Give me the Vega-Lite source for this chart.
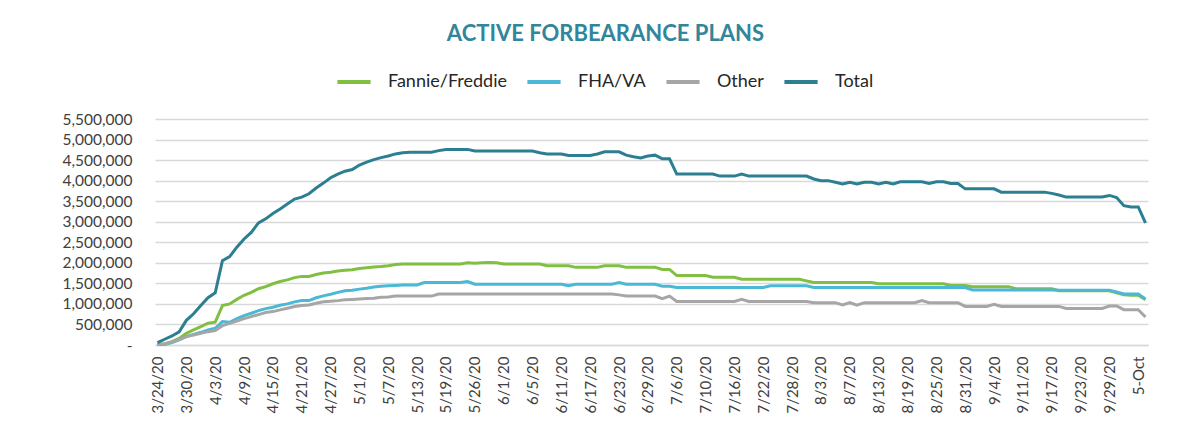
{
  "$schema": "https://vega.github.io/schema/vega-lite/v6.json",
  "width": 993,
  "height": 226,
  "autosize": "none",
  "padding": {"left": 155, "top": 119, "right": 30, "bottom": 96},
  "background": "white",
  "config": {
    "font": "Lato",
    "view": {"stroke": null},
    "axis": {"labelFont": "Lato", "labelColor": "#404040", "domain": false, "ticks": false, "title": null}
  },
  "title": {
    "text": "ACTIVE FORBEARANCE PLANS",
    "font": "Lato",
    "fontSize": 22,
    "fontWeight": "bold",
    "color": "#31869b",
    "anchor": "middle",
    "frame": "group",
    "dx": -46,
    "offset": 17
  },
  "data": {
    "values": [
      {"d":"3/24/20","ff":20000,"fha":10000,"oth":10000,"tot":60000},
      {"d":"3/25/20","ff":30000,"fha":15000,"oth":25000,"tot":140000},
      {"d":"3/26/20","ff":80000,"fha":57000,"oth":73000,"tot":220000},
      {"d":"3/27/20","ff":160000,"fha":122000,"oth":138000,"tot":320000},
      {"d":"3/30/20","ff":285000,"fha":203000,"oth":203000,"tot":600000},
      {"d":"3/31/20","ff":366000,"fha":260000,"oth":244000,"tot":760000},
      {"d":"4/1/20","ff":447000,"fha":309000,"oth":285000,"tot":960000},
      {"d":"4/2/20","ff":530000,"fha":366000,"oth":325000,"tot":1150000},
      {"d":"4/3/20","ff":555000,"fha":406000,"oth":350000,"tot":1270000},
      {"d":"4/6/20","ff":960000,"fha":570000,"oth":470000,"tot":2050000},
      {"d":"4/7/20","ff":1000000,"fha":553000,"oth":528000,"tot":2150000},
      {"d":"4/8/20","ff":1110000,"fha":642000,"oth":585000,"tot":2380000},
      {"d":"4/9/20","ff":1210000,"fha":715000,"oth":642000,"tot":2580000},
      {"d":"4/10/20","ff":1280000,"fha":772000,"oth":691000,"tot":2740000},
      {"d":"4/13/20","ff":1370000,"fha":837000,"oth":740000,"tot":2970000},
      {"d":"4/14/20","ff":1420000,"fha":886000,"oth":789000,"tot":3070000},
      {"d":"4/15/20","ff":1490000,"fha":919000,"oth":813000,"tot":3200000},
      {"d":"4/16/20","ff":1545000,"fha":967000,"oth":854000,"tot":3310000},
      {"d":"4/17/20","ff":1585000,"fha":1000000,"oth":894000,"tot":3430000},
      {"d":"4/20/20","ff":1640000,"fha":1050000,"oth":935000,"tot":3550000},
      {"d":"4/21/20","ff":1670000,"fha":1080000,"oth":960000,"tot":3600000},
      {"d":"4/22/20","ff":1670000,"fha":1080000,"oth":975000,"tot":3680000},
      {"d":"4/23/20","ff":1715000,"fha":1150000,"oth":1016000,"tot":3820000},
      {"d":"4/24/20","ff":1750000,"fha":1195000,"oth":1050000,"tot":3940000},
      {"d":"4/27/20","ff":1770000,"fha":1235000,"oth":1065000,"tot":4070000},
      {"d":"4/28/20","ff":1800000,"fha":1280000,"oth":1080000,"tot":4160000},
      {"d":"4/29/20","ff":1820000,"fha":1320000,"oth":1100000,"tot":4230000},
      {"d":"4/30/20","ff":1830000,"fha":1330000,"oth":1110000,"tot":4270000},
      {"d":"5/1/20","ff":1860000,"fha":1360000,"oth":1120000,"tot":4380000},
      {"d":"5/4/20","ff":1880000,"fha":1380000,"oth":1130000,"tot":4450000},
      {"d":"5/5/20","ff":1900000,"fha":1410000,"oth":1140000,"tot":4510000},
      {"d":"5/6/20","ff":1910000,"fha":1430000,"oth":1160000,"tot":4560000},
      {"d":"5/7/20","ff":1930000,"fha":1440000,"oth":1170000,"tot":4600000},
      {"d":"5/8/20","ff":1960000,"fha":1450000,"oth":1190000,"tot":4650000},
      {"d":"5/11/20","ff":1970000,"fha":1460000,"oth":1190000,"tot":4680000},
      {"d":"5/12/20","ff":1970000,"fha":1460000,"oth":1190000,"tot":4690000},
      {"d":"5/13/20","ff":1970000,"fha":1460000,"oth":1190000,"tot":4690000},
      {"d":"5/14/20","ff":1970000,"fha":1520000,"oth":1190000,"tot":4690000},
      {"d":"5/15/20","ff":1970000,"fha":1520000,"oth":1190000,"tot":4690000},
      {"d":"5/18/20","ff":1970000,"fha":1520000,"oth":1240000,"tot":4730000},
      {"d":"5/19/20","ff":1970000,"fha":1520000,"oth":1240000,"tot":4760000},
      {"d":"5/20/20","ff":1970000,"fha":1520000,"oth":1240000,"tot":4760000},
      {"d":"5/21/20","ff":1970000,"fha":1520000,"oth":1240000,"tot":4760000},
      {"d":"5/22/20","ff":2000000,"fha":1545000,"oth":1240000,"tot":4760000},
      {"d":"5/26/20","ff":1990000,"fha":1480000,"oth":1240000,"tot":4720000},
      {"d":"5/27/20","ff":2000000,"fha":1480000,"oth":1240000,"tot":4720000},
      {"d":"5/28/20","ff":2010000,"fha":1480000,"oth":1240000,"tot":4720000},
      {"d":"5/29/20","ff":2000000,"fha":1480000,"oth":1240000,"tot":4720000},
      {"d":"6/1/20","ff":1970000,"fha":1480000,"oth":1240000,"tot":4720000},
      {"d":"6/2/20","ff":1970000,"fha":1480000,"oth":1240000,"tot":4720000},
      {"d":"6/3/20","ff":1970000,"fha":1480000,"oth":1240000,"tot":4720000},
      {"d":"6/4/20","ff":1970000,"fha":1480000,"oth":1240000,"tot":4720000},
      {"d":"6/5/20","ff":1970000,"fha":1480000,"oth":1240000,"tot":4720000},
      {"d":"6/8/20","ff":1970000,"fha":1480000,"oth":1240000,"tot":4680000},
      {"d":"6/9/20","ff":1930000,"fha":1480000,"oth":1240000,"tot":4650000},
      {"d":"6/10/20","ff":1930000,"fha":1480000,"oth":1240000,"tot":4650000},
      {"d":"6/11/20","ff":1930000,"fha":1480000,"oth":1240000,"tot":4650000},
      {"d":"6/12/20","ff":1930000,"fha":1440000,"oth":1240000,"tot":4610000},
      {"d":"6/15/20","ff":1890000,"fha":1480000,"oth":1240000,"tot":4610000},
      {"d":"6/16/20","ff":1890000,"fha":1480000,"oth":1240000,"tot":4610000},
      {"d":"6/17/20","ff":1890000,"fha":1480000,"oth":1240000,"tot":4610000},
      {"d":"6/18/20","ff":1890000,"fha":1480000,"oth":1240000,"tot":4650000},
      {"d":"6/19/20","ff":1930000,"fha":1480000,"oth":1240000,"tot":4700000},
      {"d":"6/22/20","ff":1930000,"fha":1480000,"oth":1240000,"tot":4700000},
      {"d":"6/23/20","ff":1930000,"fha":1520000,"oth":1220000,"tot":4700000},
      {"d":"6/24/20","ff":1890000,"fha":1480000,"oth":1190000,"tot":4620000},
      {"d":"6/25/20","ff":1890000,"fha":1480000,"oth":1190000,"tot":4580000},
      {"d":"6/26/20","ff":1890000,"fha":1480000,"oth":1190000,"tot":4550000},
      {"d":"6/29/20","ff":1890000,"fha":1480000,"oth":1190000,"tot":4600000},
      {"d":"6/30/20","ff":1890000,"fha":1480000,"oth":1190000,"tot":4620000},
      {"d":"7/1/20","ff":1840000,"fha":1430000,"oth":1130000,"tot":4530000},
      {"d":"7/2/20","ff":1840000,"fha":1430000,"oth":1190000,"tot":4530000},
      {"d":"7/6/20","ff":1690000,"fha":1400000,"oth":1060000,"tot":4160000},
      {"d":"7/7/20","ff":1690000,"fha":1400000,"oth":1060000,"tot":4160000},
      {"d":"7/8/20","ff":1690000,"fha":1400000,"oth":1060000,"tot":4160000},
      {"d":"7/9/20","ff":1690000,"fha":1400000,"oth":1060000,"tot":4160000},
      {"d":"7/10/20","ff":1690000,"fha":1400000,"oth":1060000,"tot":4160000},
      {"d":"7/13/20","ff":1650000,"fha":1400000,"oth":1060000,"tot":4160000},
      {"d":"7/14/20","ff":1650000,"fha":1400000,"oth":1060000,"tot":4110000},
      {"d":"7/15/20","ff":1650000,"fha":1400000,"oth":1060000,"tot":4110000},
      {"d":"7/16/20","ff":1650000,"fha":1400000,"oth":1060000,"tot":4110000},
      {"d":"7/17/20","ff":1600000,"fha":1400000,"oth":1110000,"tot":4160000},
      {"d":"7/20/20","ff":1600000,"fha":1400000,"oth":1060000,"tot":4110000},
      {"d":"7/21/20","ff":1600000,"fha":1400000,"oth":1060000,"tot":4110000},
      {"d":"7/22/20","ff":1600000,"fha":1400000,"oth":1060000,"tot":4110000},
      {"d":"7/23/20","ff":1600000,"fha":1440000,"oth":1060000,"tot":4110000},
      {"d":"7/24/20","ff":1600000,"fha":1440000,"oth":1060000,"tot":4110000},
      {"d":"7/27/20","ff":1600000,"fha":1440000,"oth":1060000,"tot":4110000},
      {"d":"7/28/20","ff":1600000,"fha":1440000,"oth":1060000,"tot":4110000},
      {"d":"7/29/20","ff":1600000,"fha":1440000,"oth":1060000,"tot":4110000},
      {"d":"7/30/20","ff":1560000,"fha":1440000,"oth":1060000,"tot":4110000},
      {"d":"7/31/20","ff":1520000,"fha":1400000,"oth":1030000,"tot":4040000},
      {"d":"8/3/20","ff":1520000,"fha":1400000,"oth":1030000,"tot":4000000},
      {"d":"8/4/20","ff":1520000,"fha":1400000,"oth":1030000,"tot":4000000},
      {"d":"8/5/20","ff":1520000,"fha":1400000,"oth":1030000,"tot":3960000},
      {"d":"8/6/20","ff":1520000,"fha":1400000,"oth":975000,"tot":3920000},
      {"d":"8/7/20","ff":1520000,"fha":1400000,"oth":1030000,"tot":3960000},
      {"d":"8/10/20","ff":1520000,"fha":1400000,"oth":970000,"tot":3920000},
      {"d":"8/11/20","ff":1520000,"fha":1400000,"oth":1030000,"tot":3960000},
      {"d":"8/12/20","ff":1520000,"fha":1400000,"oth":1030000,"tot":3960000},
      {"d":"8/13/20","ff":1490000,"fha":1400000,"oth":1030000,"tot":3920000},
      {"d":"8/14/20","ff":1490000,"fha":1400000,"oth":1030000,"tot":3960000},
      {"d":"8/17/20","ff":1490000,"fha":1400000,"oth":1030000,"tot":3920000},
      {"d":"8/18/20","ff":1490000,"fha":1400000,"oth":1030000,"tot":3970000},
      {"d":"8/19/20","ff":1490000,"fha":1400000,"oth":1030000,"tot":3970000},
      {"d":"8/20/20","ff":1490000,"fha":1400000,"oth":1030000,"tot":3970000},
      {"d":"8/21/20","ff":1490000,"fha":1400000,"oth":1080000,"tot":3970000},
      {"d":"8/24/20","ff":1490000,"fha":1400000,"oth":1030000,"tot":3930000},
      {"d":"8/25/20","ff":1490000,"fha":1400000,"oth":1030000,"tot":3970000},
      {"d":"8/26/20","ff":1490000,"fha":1400000,"oth":1030000,"tot":3970000},
      {"d":"8/27/20","ff":1450000,"fha":1400000,"oth":1030000,"tot":3930000},
      {"d":"8/28/20","ff":1450000,"fha":1400000,"oth":1030000,"tot":3930000},
      {"d":"8/31/20","ff":1450000,"fha":1400000,"oth":940000,"tot":3800000},
      {"d":"9/1/20","ff":1420000,"fha":1340000,"oth":940000,"tot":3800000},
      {"d":"9/2/20","ff":1420000,"fha":1340000,"oth":940000,"tot":3800000},
      {"d":"9/3/20","ff":1420000,"fha":1340000,"oth":940000,"tot":3800000},
      {"d":"9/4/20","ff":1420000,"fha":1340000,"oth":990000,"tot":3800000},
      {"d":"9/8/20","ff":1420000,"fha":1340000,"oth":940000,"tot":3720000},
      {"d":"9/9/20","ff":1420000,"fha":1340000,"oth":940000,"tot":3720000},
      {"d":"9/10/20","ff":1370000,"fha":1340000,"oth":940000,"tot":3720000},
      {"d":"9/11/20","ff":1370000,"fha":1340000,"oth":940000,"tot":3720000},
      {"d":"9/14/20","ff":1370000,"fha":1340000,"oth":940000,"tot":3720000},
      {"d":"9/15/20","ff":1370000,"fha":1340000,"oth":940000,"tot":3720000},
      {"d":"9/16/20","ff":1370000,"fha":1340000,"oth":940000,"tot":3720000},
      {"d":"9/17/20","ff":1370000,"fha":1340000,"oth":940000,"tot":3690000},
      {"d":"9/18/20","ff":1320000,"fha":1330000,"oth":940000,"tot":3650000},
      {"d":"9/21/20","ff":1320000,"fha":1330000,"oth":890000,"tot":3600000},
      {"d":"9/22/20","ff":1320000,"fha":1330000,"oth":890000,"tot":3600000},
      {"d":"9/23/20","ff":1320000,"fha":1330000,"oth":890000,"tot":3600000},
      {"d":"9/24/20","ff":1320000,"fha":1330000,"oth":890000,"tot":3600000},
      {"d":"9/25/20","ff":1320000,"fha":1330000,"oth":890000,"tot":3600000},
      {"d":"9/28/20","ff":1320000,"fha":1330000,"oth":890000,"tot":3600000},
      {"d":"9/29/20","ff":1320000,"fha":1330000,"oth":950000,"tot":3640000},
      {"d":"9/30/20","ff":1270000,"fha":1290000,"oth":950000,"tot":3590000},
      {"d":"10/1/20","ff":1220000,"fha":1240000,"oth":860000,"tot":3390000},
      {"d":"10/2/20","ff":1210000,"fha":1240000,"oth":860000,"tot":3360000},
      {"d":"5-Oct","ff":1210000,"fha":1240000,"oth":860000,"tot":3360000},
      {"d":"10/6/20","ff":1100000,"fha":1120000,"oth":680000,"tot":2970000}
    ]
  },
  "encoding": {
    "x": {
      "field": "d",
      "type": "ordinal",
      "sort": null,
      "scale": {"type": "point", "padding": 0.35},
      "axis": {
        "values": ["3/24/20","3/30/20","4/3/20","4/9/20","4/15/20","4/21/20","4/27/20","5/1/20","5/7/20","5/13/20","5/19/20","5/26/20","6/1/20","6/5/20","6/11/20","6/17/20","6/23/20","6/29/20","7/6/20","7/10/20","7/16/20","7/22/20","7/28/20","8/3/20","8/7/20","8/13/20","8/19/20","8/25/20","8/31/20","9/4/20","9/11/20","9/17/20","9/23/20","9/29/20","5-Oct"],
        "labelAngle": 270,
        "labelAlign": "right",
        "labelBaseline": "middle",
        "labelFontSize": 15,
        "labelPadding": 11,
        "labelOverlap": false,
        "domain": true,
        "domainColor": "#d9d9d9",
        "domainWidth": 1.5,
        "grid": false
      }
    }
  },
  "layer": [
    {
      "mark": {"type": "line", "strokeWidth": 3},
      "encoding": {
        "y": {
          "field": "ff",
          "type": "quantitative",
          "scale": {"domain": [0, 5500000], "nice": false},
          "axis": {
            "values": [0,500000,1000000,1500000,2000000,2500000,3000000,3500000,4000000,4500000,5000000,5500000],
            "labelExpr": "datum.value === 0 ? '-\u00a0\u00a0\u00a0' : format(datum.value, ',')",
            "labelFontSize": 15.5,
            "labelPadding": 23,
            "grid": true,
            "gridColor": "#d9d9d9",
            "gridWidth": 1.5
          }
        },
        "color": {
          "datum": "Fannie/Freddie",
          "type": "nominal",
          "scale": {
            "domain": ["Fannie/Freddie", "FHA/VA", "Other", "Total"],
            "range": ["#80bf41", "#4bb8d5", "#a6a6a6", "#2b7f91"]
          },
          "legend": {
            "title": null,
            "orient": "none",
            "legendX": 180,
            "legendY": -56,
            "direction": "horizontal",
            "symbolType": "stroke",
            "symbolStrokeWidth": 4,
            "symbolSize": 1100,
            "labelFontSize": 18,
            "labelColor": "#262626",
            "labelOffset": 15,
            "columnPadding": 12
          }
        }
      }
    },
    {
      "mark": {"type": "line", "strokeWidth": 3},
      "encoding": {
        "y": {
          "field": "fha",
          "type": "quantitative",
          "scale": {"domain": [0, 5500000], "nice": false},
          "axis": {
            "values": [0,500000,1000000,1500000,2000000,2500000,3000000,3500000,4000000,4500000,5000000,5500000],
            "labelExpr": "datum.value === 0 ? '-\u00a0\u00a0\u00a0' : format(datum.value, ',')",
            "labelFontSize": 15.5,
            "labelPadding": 23,
            "grid": true,
            "gridColor": "#d9d9d9",
            "gridWidth": 1.5
          }
        },
        "color": {"datum": "FHA/VA", "type": "nominal"}
      }
    },
    {
      "mark": {"type": "line", "strokeWidth": 3},
      "encoding": {
        "y": {
          "field": "oth",
          "type": "quantitative",
          "scale": {"domain": [0, 5500000], "nice": false},
          "axis": {
            "values": [0,500000,1000000,1500000,2000000,2500000,3000000,3500000,4000000,4500000,5000000,5500000],
            "labelExpr": "datum.value === 0 ? '-\u00a0\u00a0\u00a0' : format(datum.value, ',')",
            "labelFontSize": 15.5,
            "labelPadding": 23,
            "grid": true,
            "gridColor": "#d9d9d9",
            "gridWidth": 1.5
          }
        },
        "color": {"datum": "Other", "type": "nominal"}
      }
    },
    {
      "mark": {"type": "line", "strokeWidth": 3},
      "encoding": {
        "y": {
          "field": "tot",
          "type": "quantitative",
          "scale": {"domain": [0, 5500000], "nice": false},
          "axis": {
            "values": [0,500000,1000000,1500000,2000000,2500000,3000000,3500000,4000000,4500000,5000000,5500000],
            "labelExpr": "datum.value === 0 ? '-\u00a0\u00a0\u00a0' : format(datum.value, ',')",
            "labelFontSize": 15.5,
            "labelPadding": 23,
            "grid": true,
            "gridColor": "#d9d9d9",
            "gridWidth": 1.5
          }
        },
        "color": {"datum": "Total", "type": "nominal"}
      }
    }
  ]
}
